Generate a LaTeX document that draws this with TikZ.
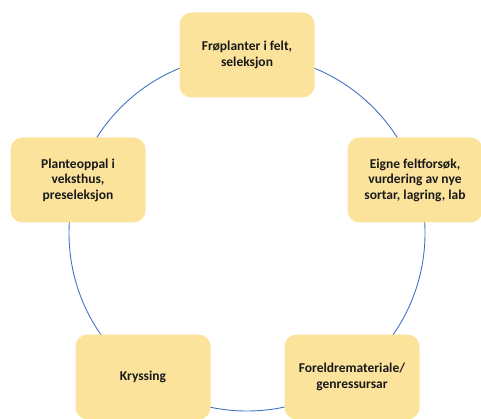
\documentclass[tikz,border=0pt]{standalone}
\usepackage{fontspec}
\setmainfont{Carlito}
\definecolor{boxfill}{HTML}{FCE39C}
\definecolor{ringblue}{HTML}{4472C4}

\begin{document}
\begin{tikzpicture}[
      x=1pt,y=-1pt,
      every node/.style={inner sep=0pt,font=\fontsize{13.5}{15.5}\selectfont\bfseries},
      stage/.style={fill=boxfill,rounded corners=12pt,minimum width=135pt,
        minimum height=85pt,align=center,text=black!90},
      ring/.style={draw=ringblue,line width=0.9pt}
    ]
      \useasboundingbox (0,0) rectangle (481,419);
      \coordinate (mid) at (247,233);
      \draw[ring] (mid) circle [radius=178pt];
      \node[stage] (felt) at (247,55) {Frøplanter i felt,\\seleksjon};
      \node[stage] (forsok) at (415,180) {Eigne feltforsøk,\\vurdering av nye\\sortar, lagring, lab};
      \node[stage] (foreldre) at (352,377) {Foreldremateriale/\\genressursar};
      \node[stage] (kryss) at (143,377) {Kryssing};
      \node[stage] (vekst) at (78,180) {Planteoppal i\\veksthus,\\preseleksjon};
    \end{tikzpicture}
\end{document}
